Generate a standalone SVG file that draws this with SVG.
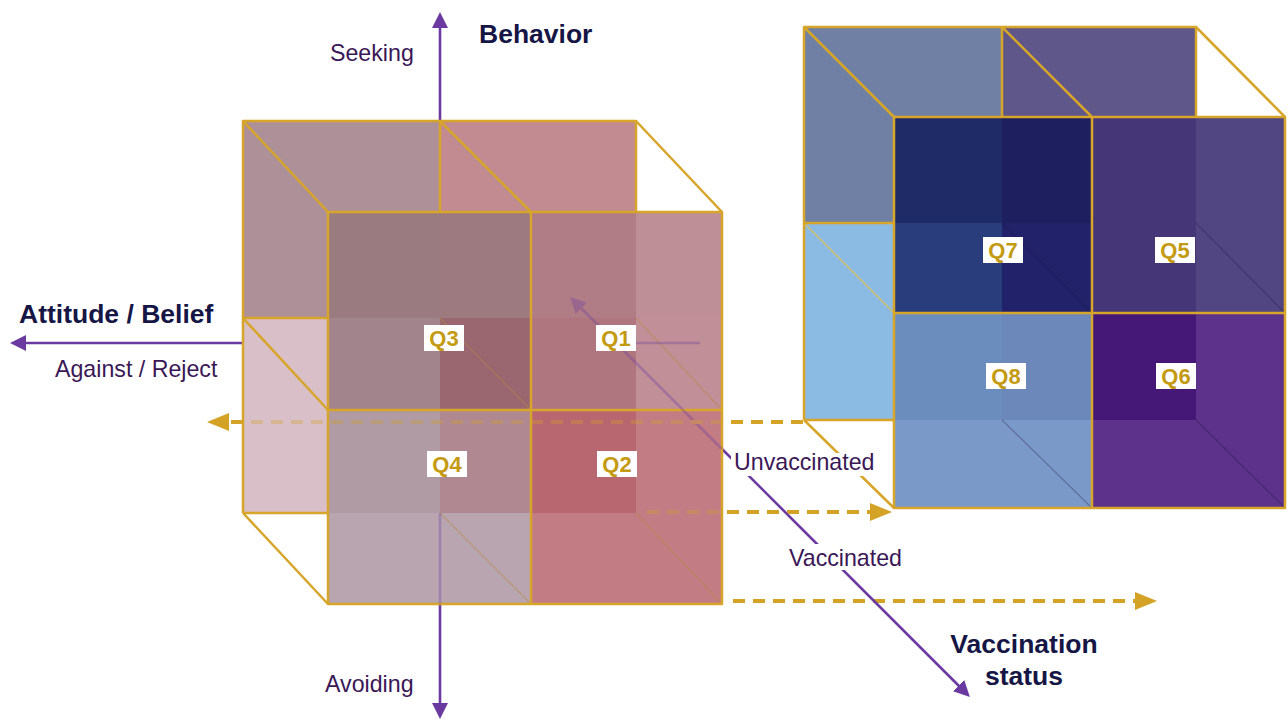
<svg xmlns="http://www.w3.org/2000/svg" width="1288" height="721" viewBox="0 0 1288 721">
  <style>
    .edge { fill: none; stroke: #d6a52a; stroke-width: 2.5; stroke-linejoin: round; }
    .ghost { fill: none; stroke: #b58a40; stroke-width: 1.4; opacity: 0.45; }
    .ghost-dark { fill: none; stroke: #1a1440; stroke-width: 1.2; opacity: 0.3; }
    .axis { fill: none; stroke: #6b3aa0; stroke-width: 2.6; }
    .dash { fill: none; stroke: #d4a225; stroke-width: 4; stroke-dasharray: 12 8; }
    .title { font-family: "Liberation Sans", Arial, Helvetica, sans-serif; font-weight: bold; font-size: 26.5px; fill: #161646; }
    .lbl { font-family: "Liberation Sans", Arial, Helvetica, sans-serif; font-size: 23.2px; fill: #3a1756; }
    .qbox { fill: #ffffff; }
    .qtxt { font-family: "Liberation Sans", Arial, Helvetica, sans-serif; font-weight: bold; font-size: 22px; fill: #c49a12; text-anchor: middle; }
  </style>
  <defs>
    <marker id="arrow-purple" viewBox="0 0 16 16" refX="2" refY="8" markerWidth="16" markerHeight="16" markerUnits="userSpaceOnUse" orient="auto-start-reverse">
      <path d="M0,0 L16,8 L0,16 z" fill="#6b3aa0"/>
    </marker>
    <marker id="arrow-gold" viewBox="0 0 22 18" refX="2" refY="9" markerWidth="22" markerHeight="18" markerUnits="userSpaceOnUse" orient="auto">
      <path d="M0,0 L22,9 L0,18 z" fill="#d4a225"/>
    </marker>
  </defs>

  <rect width="1288" height="721" fill="#ffffff"/>

  <!-- connectors drawn underneath the boxes -->
  <g id="connectors-under">
    <line class="axis" x1="440" y1="604" x2="440" y2="705" marker-end="url(#arrow-purple)"/>
    <line class="axis" x1="440" y1="121" x2="440" y2="26" marker-end="url(#arrow-purple)"/>
    <line class="axis" x1="243" y1="343" x2="24" y2="343" marker-end="url(#arrow-purple)"/>
    <line class="dash" x1="803" y1="422" x2="227" y2="422" marker-end="url(#arrow-gold)"/>
    <line class="dash" x1="647" y1="512" x2="872" y2="512" marker-end="url(#arrow-gold)"/>
    <line class="dash" x1="733" y1="601" x2="1137" y2="601" marker-end="url(#arrow-gold)"/>
    <line class="axis" x1="722" y1="449" x2="960" y2="687" marker-end="url(#arrow-purple)"/>
  </g>

  <!-- left cube: attitude x behaviour quadrants Q1-Q4 -->
  <g id="cube-left">
    <rect x="243" y="121" width="197" height="91" fill="#ae9098"/>
    <rect x="440" y="121" width="196" height="91" fill="#c28b92"/>

    <rect x="243" y="212" width="85" height="106" fill="#ae9098"/>
    <rect x="328" y="212" width="112" height="106" fill="#9a7b80"/>
    <rect x="440" y="212" width="91" height="106" fill="#9c7a7f"/>
    <rect x="531" y="212" width="105" height="106" fill="#b07d86"/>
    <rect x="636" y="212" width="86" height="106" fill="#be8f97"/>

    <rect x="243" y="318" width="85" height="92" fill="#d8bfc8"/>
    <rect x="328" y="318" width="112" height="92" fill="#a2848c"/>
    <rect x="440" y="318" width="91" height="92" fill="#9a6670"/>
    <rect x="531" y="318" width="105" height="92" fill="#b07680"/>
    <rect x="636" y="318" width="86" height="92" fill="#c08f98"/>

    <rect x="243" y="410" width="85" height="103" fill="#d8bfc8"/>
    <rect x="328" y="410" width="112" height="103" fill="#b09aa4"/>
    <rect x="440" y="410" width="91" height="103" fill="#b08892"/>
    <rect x="531" y="410" width="105" height="103" fill="#b8666f"/>
    <rect x="636" y="410" width="86" height="103" fill="#c27c84"/>

    <rect x="328" y="513" width="203" height="91" fill="#b9a5b0"/>
    <rect x="531" y="513" width="191" height="91" fill="#c27c84"/>

    <!-- hidden edges seen through the front panes -->
    <path class="ghost" d="M440,318 L531,410 M636,318 L722,410 M440,513 L531,604 M636,513 L722,604"/>

    <!-- back face -->
    <path class="edge" d="M243,513 V121 H636 V212 M440,121 V212 M243,318 H328 M243,513 H328"/>
    <!-- depth edges -->
    <path class="edge" d="M243,121 L328,212 M440,121 L531,212 M636,121 L722,212 M243,318 L328,410 M243,513 L328,604"/>
    <!-- front face -->
    <rect class="edge" x="328" y="212" width="394" height="392"/>
    <path class="edge" d="M531,212 V604 M328,410 H722"/>
  </g>

  <!-- axis parts seen through the translucent left cube -->
  <g id="connectors-through" opacity="0.32">
    <line class="axis" x1="440" y1="513" x2="440" y2="604"/>
    <line class="axis" x1="636" y1="343" x2="700" y2="343"/>
    <line class="axis" x1="722" y1="449" x2="580" y2="307" marker-end="url(#arrow-purple)"/>
    <line class="dash" x1="803" y1="422" x2="227" y2="422"/>
    <line class="dash" x1="647" y1="512" x2="872" y2="512"/>
  </g>

  <!-- right cube: quadrants Q5-Q8 -->
  <g id="cube-right">
    <rect x="804" y="27" width="198" height="90" fill="#6f80a4"/>
    <rect x="1002" y="27" width="194" height="90" fill="#5f578a"/>

    <rect x="804" y="117" width="90" height="106" fill="#6f80a4"/>
    <rect x="894" y="117" width="108" height="106" fill="#1f2b67"/>
    <rect x="1002" y="117" width="90" height="106" fill="#1d1f5f"/>
    <rect x="1092" y="117" width="104" height="106" fill="#443677"/>
    <rect x="1196" y="117" width="89" height="106" fill="#514682"/>

    <rect x="804" y="223" width="90" height="90" fill="#8bbae2"/>
    <rect x="894" y="223" width="108" height="90" fill="#293c7c"/>
    <rect x="1002" y="223" width="90" height="90" fill="#22226a"/>
    <rect x="1092" y="223" width="104" height="90" fill="#443677"/>
    <rect x="1196" y="223" width="89" height="90" fill="#514682"/>

    <rect x="804" y="313" width="90" height="107" fill="#8bbae2"/>
    <rect x="894" y="313" width="108" height="107" fill="#6b8dbe"/>
    <rect x="1002" y="313" width="90" height="107" fill="#6c87b9"/>
    <rect x="1092" y="313" width="104" height="107" fill="#451878"/>
    <rect x="1196" y="313" width="89" height="107" fill="#5c328a"/>

    <rect x="894" y="420" width="198" height="88" fill="#7b99c8"/>
    <rect x="1092" y="420" width="193" height="88" fill="#5c328a"/>

    <path class="ghost-dark" d="M1002,223 L1092,313 M1196,223 L1285,313 M1002,420 L1092,508 M1196,420 L1285,508"/>
    <path d="M804,223 L894,313" fill="none" stroke="#d8c060" stroke-width="1.3"/>

    <path class="edge" d="M804,420 V27 H1196 V117 M1002,27 V117 M804,223 H894 M804,420 H894"/>
    <path class="edge" d="M804,27 L894,117 M1002,27 L1092,117 M1196,27 L1285,117 M804,420 L894,508"/>
    <rect class="edge" x="894" y="117" width="391" height="391"/>
    <path class="edge" d="M1092,117 V508 M894,313 H1285"/>
  </g>

  <!-- quadrant tags -->
  <g id="q3"><rect class="qbox" x="424" y="325" width="40" height="26"/><text class="qtxt" x="444" y="346">Q3</text></g>
  <g id="q1"><rect class="qbox" x="596" y="325" width="40" height="26"/><text class="qtxt" x="616" y="346">Q1</text></g>
  <g id="q4"><rect class="qbox" x="427" y="451" width="40" height="26"/><text class="qtxt" x="447" y="472">Q4</text></g>
  <g id="q2"><rect class="qbox" x="597" y="451" width="40" height="26"/><text class="qtxt" x="617" y="472">Q2</text></g>
  <g id="q7"><rect class="qbox" x="983" y="237" width="40" height="26"/><text class="qtxt" x="1003" y="258">Q7</text></g>
  <g id="q5"><rect class="qbox" x="1155" y="237" width="40" height="26"/><text class="qtxt" x="1175" y="258">Q5</text></g>
  <g id="q8"><rect class="qbox" x="986" y="363" width="40" height="26"/><text class="qtxt" x="1006" y="384">Q8</text></g>
  <g id="q6"><rect class="qbox" x="1156" y="363" width="40" height="26"/><text class="qtxt" x="1176" y="384">Q6</text></g>

  <!-- axis titles and pole labels -->
  <g id="labels">
    <text class="title" x="479" y="43">Behavior</text>
    <text class="lbl" x="330" y="61">Seeking</text>
    <text class="lbl" x="325" y="692">Avoiding</text>
    <text class="title" x="19" y="323">Attitude / Belief</text>
    <text class="lbl" x="55" y="377">Against / Reject</text>
    <rect x="731" y="453" width="148" height="23" fill="#ffffff"/>
    <text class="lbl" x="734" y="470">Unvaccinated</text>
    <rect x="786" y="544" width="117" height="26" fill="#ffffff"/>
    <text class="lbl" x="789" y="566">Vaccinated</text>
    <text class="title" x="1024" y="653" text-anchor="middle">Vaccination</text>
    <text class="title" x="1024" y="685" text-anchor="middle">status</text>
  </g>
</svg>
